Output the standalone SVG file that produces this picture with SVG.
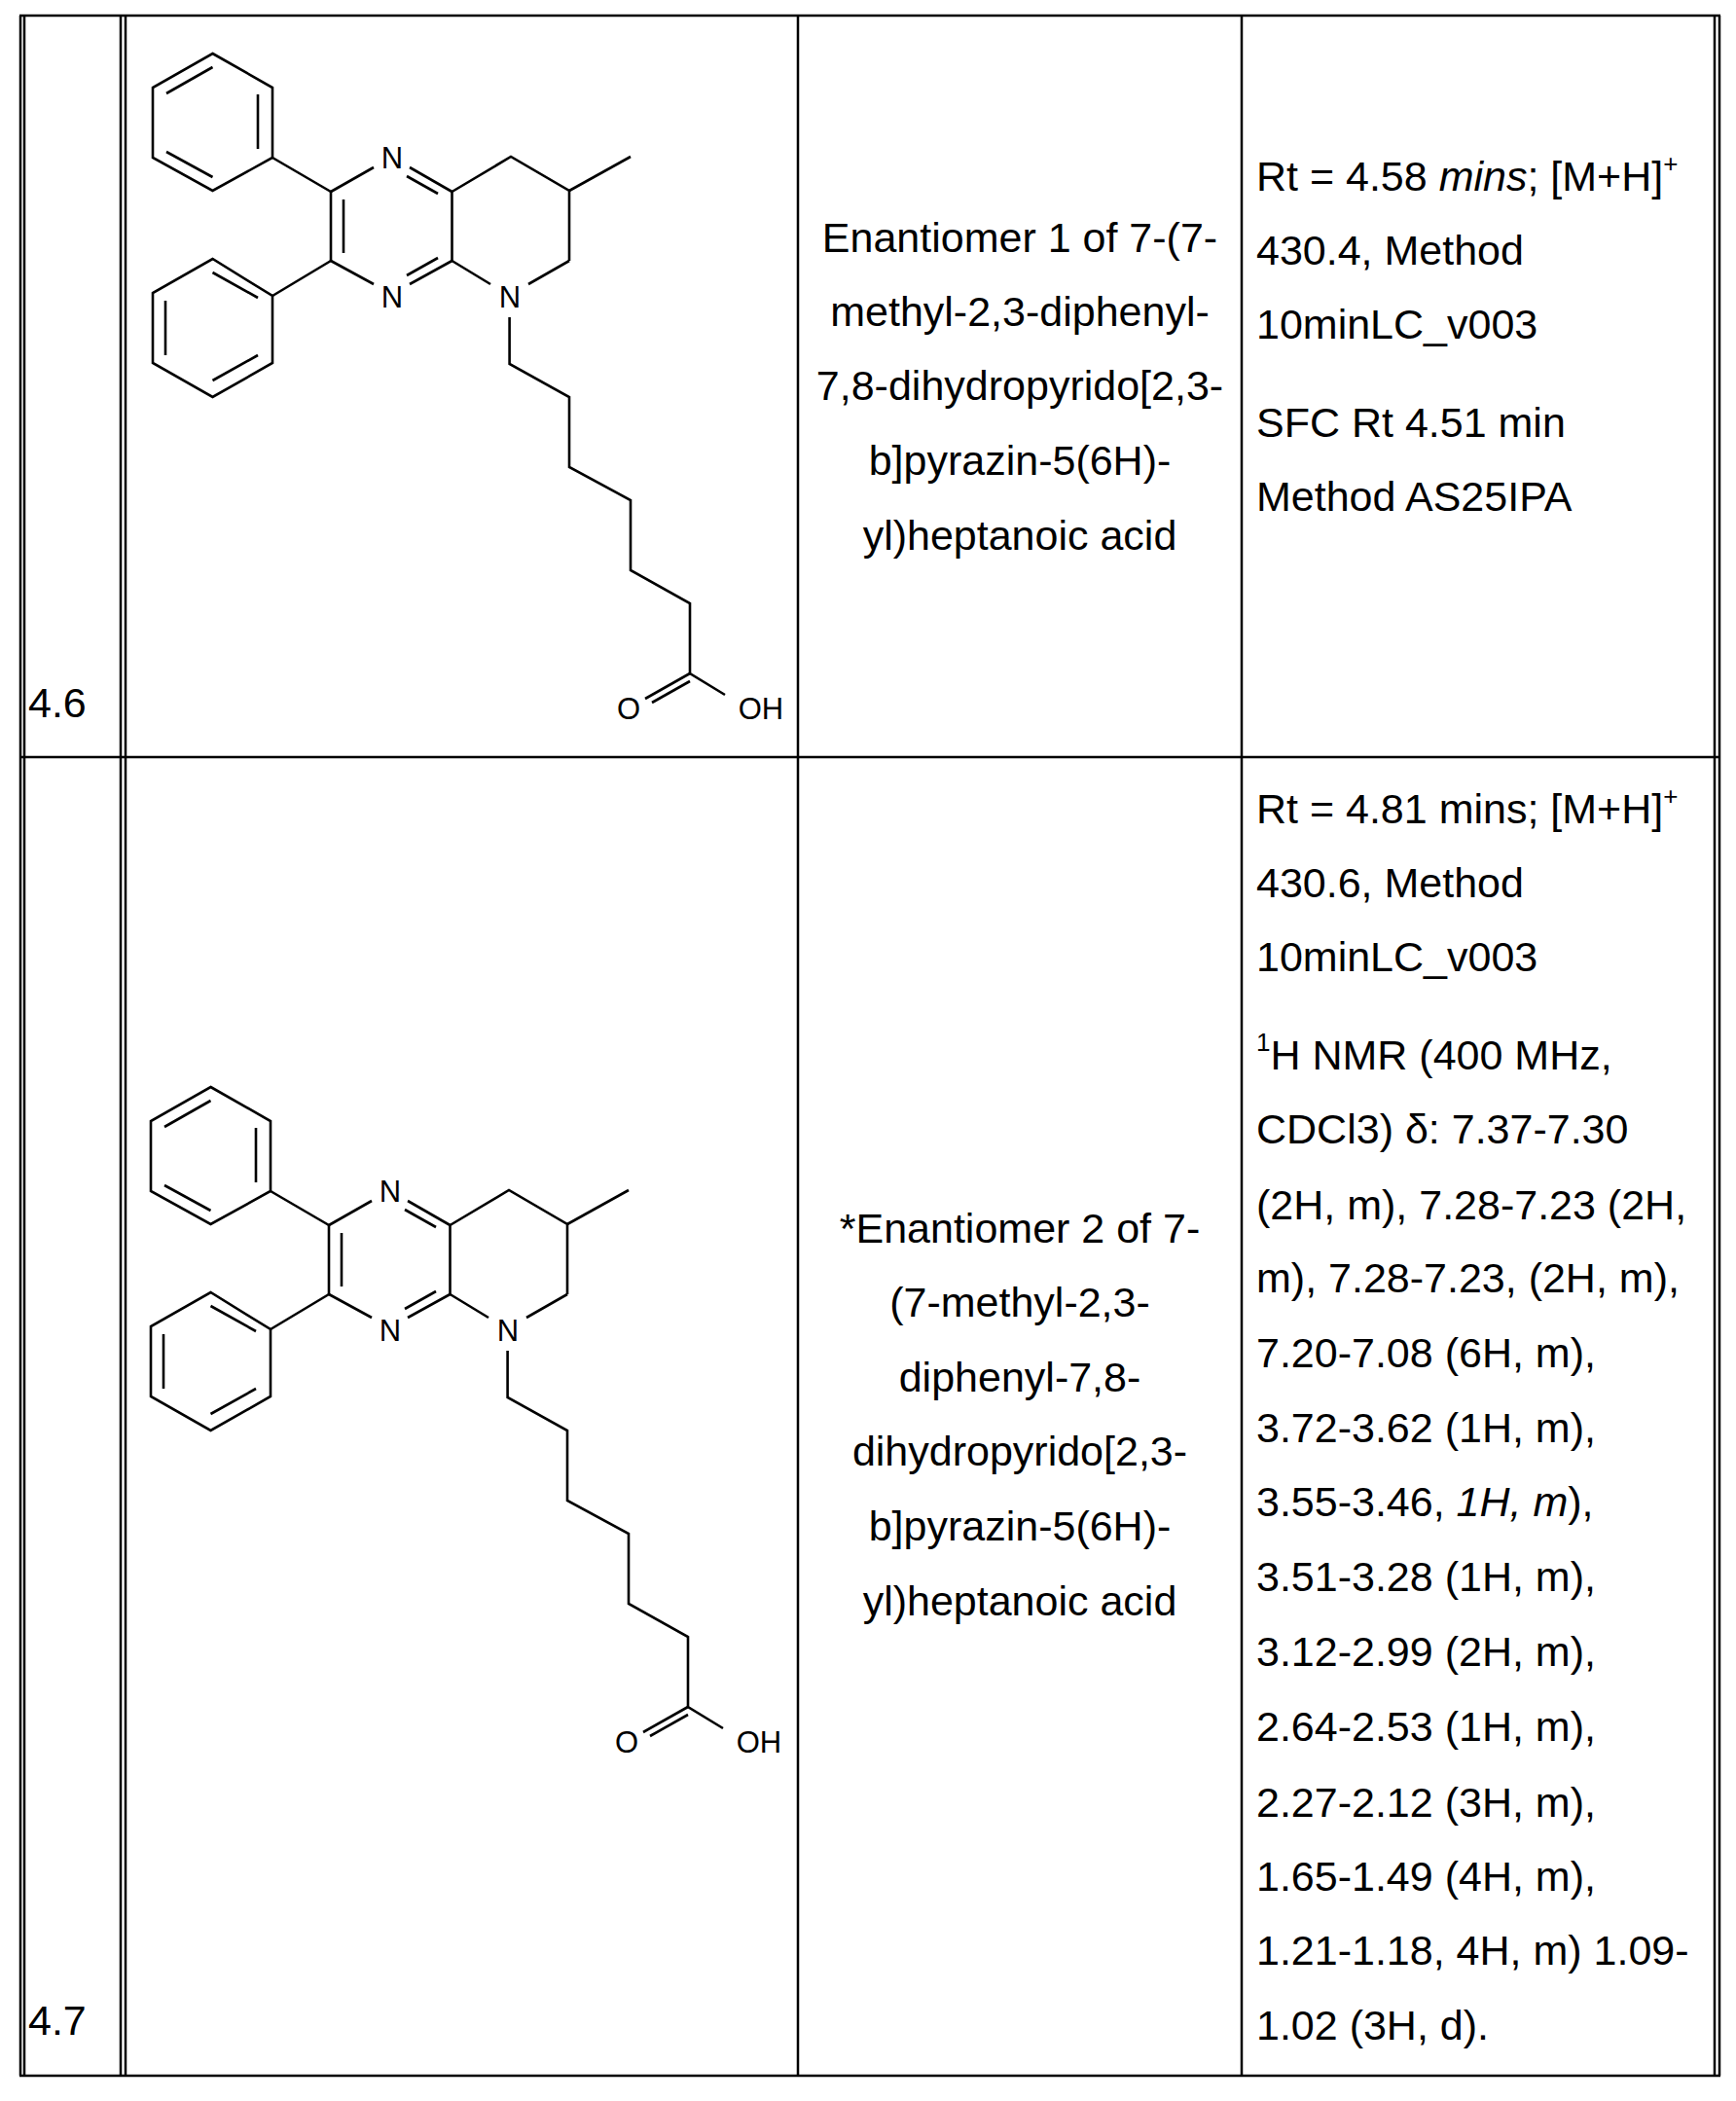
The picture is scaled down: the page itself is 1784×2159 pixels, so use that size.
<svg xmlns="http://www.w3.org/2000/svg" width="1784" height="2159" viewBox="0 0 1784 2159">
<style>
.t{font-family:"Liberation Sans",Arial,sans-serif;font-size:43px;fill:#000}
.c{text-anchor:middle}
.a{font-family:"Liberation Sans",Arial,sans-serif;font-size:31px;fill:#000;text-anchor:middle}
.g line,.g polyline{stroke:#000;stroke-width:2.6;fill:none}
.tb line{stroke:#000;stroke-width:2.5}
</style>
<defs>
<g id="mol" class="g">
<polygon points="218.5,55 280,90 280,162 218.5,196 157,162 157,90" fill="none" stroke="#000" stroke-width="2.6"/>
<line x1="171" y1="96" x2="218.5" y2="69"/><line x1="265" y1="97" x2="265" y2="153"/><line x1="171" y1="156" x2="218.5" y2="182"/>
<polygon points="280,304 280,373 218.5,408 157,373 157,301 218.5,266" fill="none" stroke="#000" stroke-width="2.6"/>
<line x1="218.5" y1="280" x2="265" y2="306"/><line x1="265" y1="365" x2="218.5" y2="391"/><line x1="170" y1="309" x2="170" y2="365"/>
<line x1="280" y1="162" x2="340" y2="197"/><line x1="280" y1="304" x2="340" y2="268"/>
<line x1="340" y1="197" x2="340" y2="268"/><line x1="353" y1="205" x2="353" y2="260"/>
<line x1="340" y1="197" x2="384" y2="172"/><line x1="421" y1="172" x2="464.5" y2="197"/><line x1="418" y1="181" x2="450" y2="199"/>
<line x1="340" y1="268" x2="384" y2="292"/><line x1="421" y1="292" x2="464.5" y2="268"/><line x1="418" y1="283" x2="450" y2="265"/>
<line x1="464.5" y1="197" x2="464.5" y2="268"/>
<line x1="464.5" y1="268" x2="504" y2="292"/><line x1="543" y1="292" x2="585" y2="268"/>
<polyline points="464.5,197 525,161 585,196 585,268"/><line x1="585" y1="196" x2="648" y2="161"/>
<polyline points="523.6,326 523.6,374 585,408 585,480 648,514 648,586 709,620 709,692 745,714"/>
<line x1="709" y1="692" x2="663" y2="718"/><line x1="709" y1="700" x2="670" y2="722"/>
<text class="a" x="403" y="173">N</text><text class="a" x="403" y="316">N</text><text class="a" x="524" y="316">N</text>
<text class="a" x="646" y="739">O</text><text class="a" x="782" y="739">OH</text>
</g>
</defs>
<rect width="1784" height="2159" fill="#fff"/>
<g id="table" class="tb">
<line x1="20" y1="16" x2="1768" y2="16"/>
<line x1="20" y1="778" x2="1768" y2="778"/>
<line x1="20" y1="2133" x2="1768" y2="2133"/>
<line x1="21" y1="16" x2="21" y2="2133"/><line x1="25" y1="16" x2="25" y2="2133"/>
<line x1="124" y1="16" x2="124" y2="2133"/><line x1="129" y1="16" x2="129" y2="2133"/>
<line x1="820" y1="16" x2="820" y2="2133"/>
<line x1="1276" y1="16" x2="1276" y2="2133"/>
<line x1="1762" y1="16" x2="1762" y2="2133"/><line x1="1767" y1="16" x2="1767" y2="2133"/>
</g>
<g id="row46">
<text class="t" x="29" y="737">4.6</text>
<use href="#mol"/>
<text class="t c" x="1048" y="259">Enantiomer 1 of 7-(7-</text>
<text class="t c" x="1048" y="335">methyl-2,3-diphenyl-</text>
<text class="t c" x="1048" y="411">7,8-dihydropyrido[2,3-</text>
<text class="t c" x="1048" y="488">b]pyrazin-5(6H)-</text>
<text class="t c" x="1048" y="565">yl)heptanoic acid</text>
<text class="t" x="1291" y="196">Rt = 4.58 <tspan font-style="italic">mins</tspan>; [M+H]<tspan font-size="26" dy="-19">+</tspan></text>
<text class="t" x="1291" y="272">430.4, Method</text>
<text class="t" x="1291" y="348">10minLC_v003</text>
<text class="t" x="1291" y="449">SFC Rt 4.51 min</text>
<text class="t" x="1291" y="525">Method AS25IPA</text>
</g>
<g id="row47">
<text class="t" x="29" y="2091">4.7</text>
<use href="#mol" transform="translate(-2,1062)"/>
<text class="t c" x="1048" y="1277">*Enantiomer 2 of 7-</text>
<text class="t c" x="1048" y="1353">(7-methyl-2,3-</text>
<text class="t c" x="1048" y="1430">diphenyl-7,8-</text>
<text class="t c" x="1048" y="1506">dihydropyrido[2,3-</text>
<text class="t c" x="1048" y="1583">b]pyrazin-5(6H)-</text>
<text class="t c" x="1048" y="1660">yl)heptanoic acid</text>
<text class="t" x="1291" y="846">Rt = 4.81 mins; [M+H]<tspan font-size="26" dy="-19">+</tspan></text>
<text class="t" x="1291" y="922">430.6, Method</text>
<text class="t" x="1291" y="998">10minLC_v003</text>
<text class="t" x="1291" y="1099"><tspan font-size="26" dy="-19">1</tspan><tspan dy="19">H NMR (400 MHz,</tspan></text>
<text class="t" x="1291" y="1175">CDCl3) δ: 7.37-7.30</text>
<text class="t" x="1291" y="1253">(2H, m), 7.28-7.23 (2H,</text>
<text class="t" x="1291" y="1328">m), 7.28-7.23, (2H, m),</text>
<text class="t" x="1291" y="1405">7.20-7.08 (6H, m),</text>
<text class="t" x="1291" y="1482">3.72-3.62 (1H, m),</text>
<text class="t" x="1291" y="1558">3.55-3.46, <tspan font-style="italic">1H, m</tspan>),</text>
<text class="t" x="1291" y="1635">3.51-3.28 (1H, m),</text>
<text class="t" x="1291" y="1712">3.12-2.99 (2H, m),</text>
<text class="t" x="1291" y="1789">2.64-2.53 (1H, m),</text>
<text class="t" x="1291" y="1867">2.27-2.12 (3H, m),</text>
<text class="t" x="1291" y="1943">1.65-1.49 (4H, m),</text>
<text class="t" x="1291" y="2019">1.21-1.18, 4H, m) 1.09-</text>
<text class="t" x="1291" y="2096">1.02 (3H, d).</text>
</g>
</svg>
